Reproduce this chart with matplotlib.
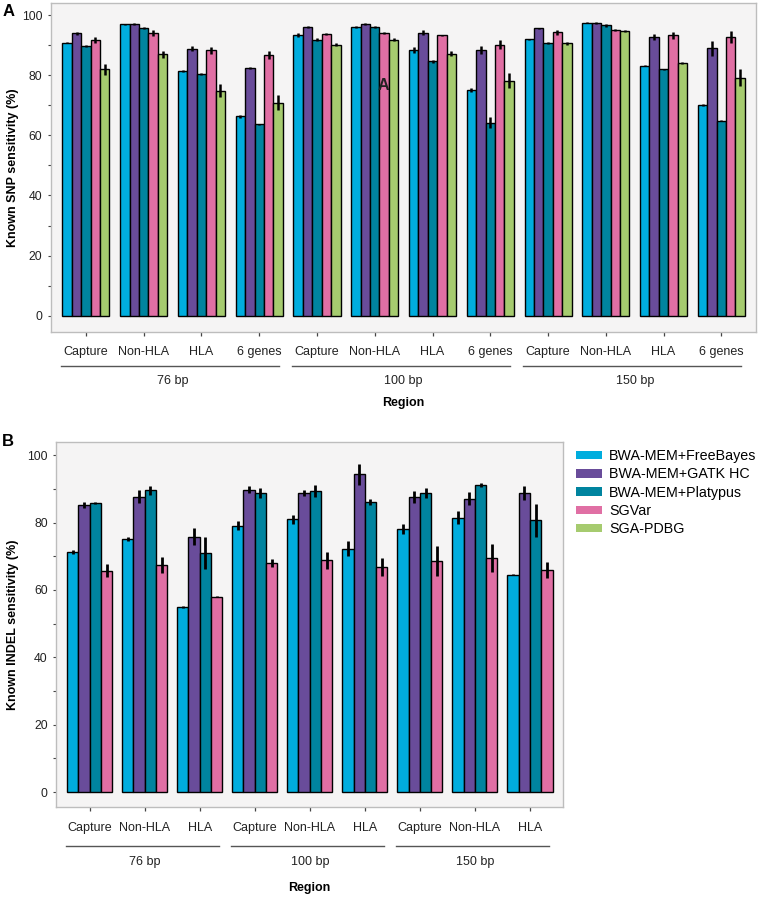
import numpy as np
import matplotlib
matplotlib.use("Agg")
import matplotlib.pyplot as plt
import matplotlib.patches as mpatches
import matplotlib.transforms as mtransforms

plt.rcParams['font.family'] = ['Liberation Sans', 'DejaVu Sans']

# ---- data ----
callers = ['BWA-MEM+FreeBayes', 'BWA-MEM+GATK HC', 'BWA-MEM+Platypus', 'SGVar', 'SGA-PDBG']
caller_colors = ['#00ADDE', '#694C9A', '#00849F', '#E06FA4', '#A6CB6F']

read_lengths = ['76 bp', '100 bp', '150 bp']
snp_regions = ['Capture', 'Non-HLA', 'HLA', '6 genes']
indel_regions = ['Capture', 'Non-HLA', 'HLA']

# SNP sensitivity (%), 12 groups = 3 read lengths x 4 regions
snp_freebayes = [90.8, 96.9, 81.4, 66.4, 93.4, 96.1, 88.3, 75.2, 91.9, 97.4, 83.1, 70.1]
snp_gatk = [93.9, 97.0, 88.8, 82.3, 96.1, 97.0, 94.1, 88.4, 95.6, 97.4, 92.6, 88.9]
snp_platypus = [89.8, 95.7, 80.4, 63.6, 91.8, 95.9, 84.6, 64.2, 90.7, 96.6, 81.9, 64.9]
snp_sgvar = [91.8, 94.0, 88.3, 86.7, 93.8, 94.1, 93.3, 90.2, 94.2, 94.9, 93.2, 92.8]
snp_pdbg = [82.0, 86.9, 74.8, 70.9, 90.2, 91.8, 87.2, 78.2, 90.6, 94.7, 84.0, 79.2]

snp_freebayes_err = [0.2, 0.2, 0.2, 0.5, 0.6, 0.4, 1.0, 0.7, 0.1, 0.2, 0.2, 0.3]
snp_gatk_err = [0.6, 0.4, 0.8, 0.3, 0.4, 0.3, 0.9, 1.2, 0.1, 0.4, 1.0, 2.5]
snp_platypus_err = [0.3, 0.2, 0.2, 0.3, 0.4, 0.3, 0.5, 1.8, 0.4, 0.5, 0.2, 0.2]
snp_sgvar_err = [1.0, 1.1, 1.1, 1.4, 0.3, 0.3, 0.2, 1.5, 0.8, 0.3, 1.2, 2.0]
snp_pdbg_err = [1.8, 1.1, 2.2, 2.5, 0.6, 0.5, 0.7, 2.4, 0.4, 0.3, 0.3, 2.9]

# INDEL sensitivity (%), 9 groups = 3 read lengths x 3 regions (no SGA-PDBG)
indel_freebayes = [71.3, 75.2, 54.9, 79.1, 81.0, 72.3, 78.0, 81.4, 64.5]
indel_gatk = [85.3, 87.7, 75.8, 89.8, 88.8, 94.3, 87.5, 87.1, 88.8]
indel_platypus = [85.8, 89.6, 71.0, 88.8, 89.3, 86.1, 88.8, 91.1, 80.7]
indel_sgvar = [65.7, 67.4, 58.0, 68.1, 68.8, 66.9, 68.5, 69.4, 66.0]

indel_freebayes_err = [0.5, 0.6, 0.2, 1.4, 1.3, 2.3, 1.5, 1.9, 0.1]
indel_gatk_err = [0.9, 2.0, 2.5, 1.0, 0.8, 3.2, 1.8, 1.9, 2.0]
indel_platypus_err = [0.3, 1.3, 4.8, 1.5, 1.7, 1.0, 1.5, 0.6, 4.9]
indel_sgvar_err = [1.9, 2.3, 0.2, 1.2, 2.5, 2.7, 4.4, 4.2, 2.4]

snp_series = [snp_freebayes, snp_gatk, snp_platypus, snp_sgvar, snp_pdbg]
snp_errs = [snp_freebayes_err, snp_gatk_err, snp_platypus_err, snp_sgvar_err, snp_pdbg_err]
indel_series = [indel_freebayes, indel_gatk, indel_platypus, indel_sgvar]
indel_errs = [indel_freebayes_err, indel_gatk_err, indel_platypus_err, indel_sgvar_err]

panel_bg = '#F5F4F4'
spine_col = '#BDBDBD'
tick_col = '#444444'


def grouped_bars(ax, series, errs, colors, group_width, elw):
    n_groups = len(series[0])
    n_bars = len(series)
    bw = group_width / n_bars
    x = np.arange(1, n_groups + 1)
    for i, (vals, err) in enumerate(zip(series, errs)):
        xpos = x - group_width / 2 + bw * (i + 0.5)
        ax.bar(xpos, vals, width=bw, color=colors[i], edgecolor='black', linewidth=1.0, zorder=2)
        ax.errorbar(xpos, vals, yerr=err, fmt='none', ecolor='black', elinewidth=elw,
                    capsize=0, zorder=3)
    return x


def style_axes(ax, regions, ylim, ylabel, label_x):
    ax.set_facecolor(panel_bg)
    for s in ax.spines.values():
        s.set_color(spine_col)
        s.set_linewidth(1.0)
    ax.set_ylim(*ylim)
    ax.set_yticks(np.arange(0, 101, 10))
    ax.set_yticklabels([str(v) if v % 20 == 0 else '' for v in range(0, 101, 10)])
    ax.tick_params(axis='y', length=2.5, width=0.8, color=tick_col, pad=3.5, labelsize=8.8,
                   labelcolor='#222222')
    n = len(regions) * len(read_lengths)
    ax.set_xticks(np.arange(1, n + 1))
    ax.set_xticklabels(regions * len(read_lengths))
    ax.tick_params(axis='x', length=3, width=0.9, color=tick_col, pad=7.5, labelsize=9,
                   labelcolor='#222222')
    ax.set_xlim(0.39, n + 0.6)
    ax.set_ylabel(ylabel, fontsize=9, fontweight='bold')
    # anchor is the right edge of the rotated label
    ax.yaxis.set_label_coords(label_x, 0.5)


def length_brackets(ax, n_regions, group_width, line_y, text_y, title_y):
    trans = mtransforms.blended_transform_factory(ax.transData, ax.transAxes)
    for k, name in enumerate(read_lengths):
        c0 = k * n_regions + 1
        c1 = (k + 1) * n_regions
        ax.plot([c0 - group_width / 2 - 0.02, c1 + group_width / 2 - 0.06], [line_y, line_y],
                transform=trans, color='#555555', lw=1.0, clip_on=False)
        ax.text((c0 + c1) / 2, text_y, name, transform=trans, ha='center', va='center',
                fontsize=9, color='#222222')
    ax.text(0.5, title_y, 'Region', transform=ax.transAxes, ha='center', va='center',
            fontsize=9, fontweight='bold')


fig = plt.figure(figsize=(7.6, 9.02), dpi=100)

# panel A - SNPs
ax1 = fig.add_axes([50.7 / 760, 1 - 331.7 / 902, 705.3 / 760, 328.4 / 902])
grouped_bars(ax1, snp_series, snp_errs, caller_colors, 0.815, 1.8)
style_axes(ax1, snp_regions, (-5.3, 103.9), 'Known SNP sensitivity (%)', -0.0445)
length_brackets(ax1, len(snp_regions), 0.815, -0.1035, -0.151, -0.218)
fig.text(8.5 / 760, 1 - 12 / 902, 'A', fontsize=12, fontweight='bold', ha='center', va='center')
# stray letter that sits inside the reference plot
fig.text(383 / 760, 1 - 86 / 902, 'A', fontsize=11.5, fontweight='bold', color='#222222',
         ha='center', va='center')

# panel B - INDELs
ax2 = fig.add_axes([56 / 760, 1 - 807 / 902, 507 / 760, 365 / 902])
grouped_bars(ax2, indel_series, indel_errs, caller_colors, 0.82, 2.0)
style_axes(ax2, indel_regions, (-4.4, 103.9), 'Known INDEL sensitivity (%)', -0.072)
length_brackets(ax2, len(indel_regions), 0.82, -0.107, -0.152, -0.222)
fig.text(7.5 / 760, 1 - 441.7 / 902, 'B', fontsize=12, fontweight='bold', ha='center', va='center')

handles = [mpatches.Patch(facecolor=c, edgecolor='none', label=l)
           for c, l in zip(caller_colors, callers)]
fig.legend(handles=handles, loc='upper left', bbox_to_anchor=(576 / 760, 1 - 449 / 902),
           frameon=False, fontsize=10.3, handlelength=1.8, handleheight=0.55,
           handletextpad=0.5, labelspacing=0.3, borderpad=0, borderaxespad=0)

fig.savefig('out.png', dpi=100)
